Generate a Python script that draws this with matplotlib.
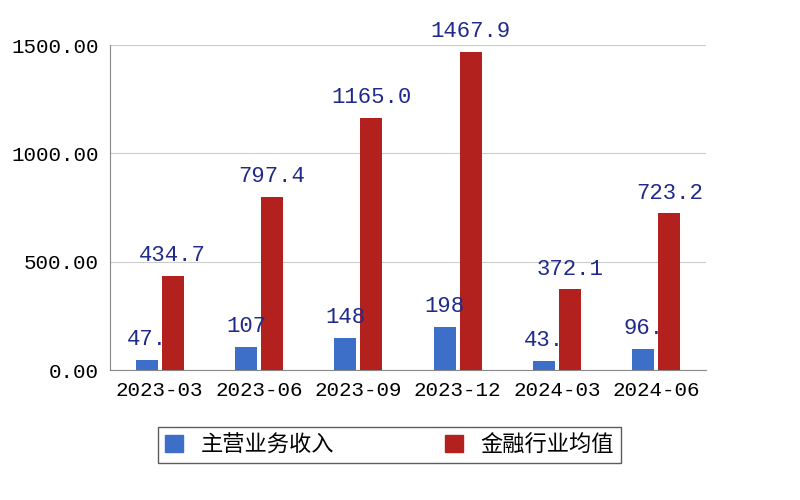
import matplotlib
matplotlib.use("Agg")
import matplotlib.pyplot as plt
import numpy as np
from matplotlib.patches import Patch

categories = ["2023-03", "2023-06", "2023-09", "2023-12", "2024-03", "2024-06"]
main_income = [47, 107, 148, 198, 43, 96]
main_labels = ["47.", "107", "148", "198", "43.", "96."]
industry_avg = [434.7, 797.4, 1165.0, 1467.9, 372.1, 723.2]
industry_labels = ["434.7", "797.4", "1165.0", "1467.9", "372.1", "723.2"]

fig = plt.figure(figsize=(8, 5), dpi=100)
ax = fig.add_axes([0.1375, 0.26, 0.745, 0.65])
x = np.arange(len(categories))
w = 0.22
ax.bar(x - 0.13, main_income, w, color="#3d6fc8", zorder=3)
ax.bar(x + 0.13, industry_avg, w, color="#b3211e", zorder=3)
mono = "Liberation Mono"
for i in range(len(x)):
    ax.text(x[i] - 0.13, main_income[i] + 45, main_labels[i], ha="center", va="bottom",
            color="#1f2a8a", fontsize=16, family=mono)
    ax.text(x[i] + 0.13, industry_avg[i] + 45, industry_labels[i], ha="center", va="bottom",
            color="#1f2a8a", fontsize=16, family=mono)
ax.set_xlim(-0.5, 5.5)
ax.set_ylim(0, 1500)
ax.set_yticks([0, 500, 1000, 1500])
ax.set_yticklabels(["0.00", "500.00", "1000.00", "1500.00"], family=mono, fontsize=15)
ax.set_xticks(x)
ax.set_xticklabels(categories, family=mono, fontsize=15)
ax.grid(axis="y", color="#cccccc", zorder=0)
for s in ["top", "right"]:
    ax.spines[s].set_visible(False)
ax.spines["left"].set_color("#888888")
ax.spines["bottom"].set_color("#888888")
ax.tick_params(length=0, pad=8)
handles = [Patch(color="#3d6fc8"), Patch(color="#b3211e")]
fig.legend(handles, ["主营业务收入", "金融行业均值"], loc="center", bbox_to_anchor=(0.487, 0.11),
           ncol=2, prop={"family": "Noto Sans CJK SC", "size": 16}, frameon=True, fancybox=False,
           edgecolor="#333333", handlelength=0.8, handleheight=0.8, columnspacing=5,
           borderpad=0.3)
fig.savefig("out.png")
